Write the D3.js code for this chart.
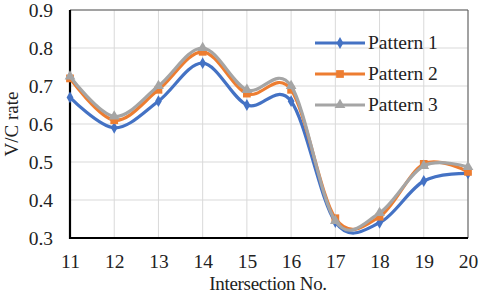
<!DOCTYPE html>
<html>
<head>
<meta charset="utf-8">
<script src="https://cdn.jsdelivr.net/npm/d3@7"></script>
<style>
  body { margin: 0; background: #fff; }
  svg text { font-family: "Liberation Serif", "DejaVu Serif", serif; fill: #222; }
</style>
</head>
<body>
<svg width="480" height="295"></svg>
<script>
var intersections = [11, 12, 13, 14, 15, 16, 17, 18, 19, 20];
var pattern1 = [0.67, 0.59, 0.66, 0.76, 0.65, 0.66, 0.342, 0.34, 0.45, 0.47];
var pattern2 = [0.72, 0.61, 0.69, 0.79, 0.68, 0.69, 0.352, 0.356, 0.495, 0.474];
var pattern3 = [0.725, 0.62, 0.70, 0.80, 0.69, 0.70, 0.345, 0.366, 0.49, 0.487];
var yTicks = [0.3, 0.4, 0.5, 0.6, 0.7, 0.8, 0.9];

var series = [
  {name: "Pattern 1", values: pattern1, color: "#4472C4", marker: "diamond"},
  {name: "Pattern 2", values: pattern2, color: "#ED7D31", marker: "square"},
  {name: "Pattern 3", values: pattern3, color: "#A5A5A5", marker: "triangle"}
];

var svg = d3.select("svg");
var plotLeft = 70, plotRight = 468, plotTop = 10, plotBottom = 238;

var x = d3.scaleLinear().domain([11, 20]).range([plotLeft, plotRight]);
var y = d3.scaleLinear().domain([0.3, 0.9]).range([plotBottom, plotTop]);

// grid
svg.append("g").selectAll("line")
  .data(yTicks)
  .enter().append("line")
    .attr("x1", plotLeft).attr("x2", plotRight)
    .attr("y1", function(d) {return y(d);})
    .attr("y2", function(d) {return y(d);})
    .attr("stroke", "#d9d9d9").attr("stroke-width", 1);
svg.append("g").selectAll("line")
  .data(intersections)
  .enter().append("line")
    .attr("y1", plotTop).attr("y2", plotBottom)
    .attr("x1", function(d) {return x(d);})
    .attr("x2", function(d) {return x(d);})
    .attr("stroke", "#d9d9d9").attr("stroke-width", 1);

// frame
svg.append("path")
  .attr("d", "M" + plotLeft + "," + plotTop + "H" + plotRight + "V" + plotBottom)
  .attr("fill", "none").attr("stroke", "#595959").attr("stroke-width", 1);

// axes
var yAxis = d3.axisLeft(y).tickValues(yTicks).tickFormat(d3.format(".1f")).tickSize(0).tickPadding(17);
var xAxis = d3.axisBottom(x).tickValues(intersections).tickFormat(d3.format("d")).tickSize(0).tickPadding(16);

var gy = svg.append("g").attr("transform", "translate(" + plotLeft + ",0)").call(yAxis);
var gx = svg.append("g").attr("transform", "translate(0," + plotBottom + ")").call(xAxis);
[gx, gy].forEach(function(g) {
  g.select(".domain").remove();
  g.attr("font-family", null).attr("font-size", null);
  g.selectAll("text").style("font-size", "19.5px").attr("fill", "#222");
});

svg.append("path")
  .attr("d", "M" + plotLeft + "," + plotTop + "V" + plotBottom + "H" + plotRight)
  .attr("fill", "none").attr("stroke", "#000").attr("stroke-width", 2.2);

// lines
var line = d3.line()
  .x(function(d, i) {return x(intersections[i]);})
  .y(function(d) {return y(d);})
  .curve(d3.curveCatmullRom.alpha(0));

var symbols = {
  diamond: d3.symbol().type(d3.symbolDiamond).size(40),
  square: d3.symbol().type(d3.symbolSquare).size(60),
  triangle: d3.symbol().type(d3.symbolTriangle).size(50)
};

series.forEach(function(s) {
  svg.append("path")
    .datum(s.values)
    .attr("d", line)
    .attr("fill", "none")
    .attr("stroke", s.color)
    .attr("stroke-width", 3.2);
  svg.append("g").selectAll("path")
    .data(s.values)
    .enter().append("path")
      .attr("d", symbols[s.marker])
      .attr("transform", function(d, i) {return "translate(" + x(intersections[i]) + "," + y(d) + ")";})
      .attr("fill", s.color);
});

// legend
var legend = svg.append("g");
series.forEach(function(s, i) {
  var ly = 43 + i * 31;
  legend.append("line")
    .attr("x1", 315).attr("x2", 365).attr("y1", ly).attr("y2", ly)
    .attr("stroke", s.color).attr("stroke-width", 3.2);
  legend.append("path")
    .attr("d", symbols[s.marker])
    .attr("transform", "translate(340," + ly + ")")
    .attr("fill", s.color);
  legend.append("text")
    .attr("x", 368).attr("y", ly + 6)
    .style("font-size", "19.5px")
    .text(s.name);
});

// axis titles
svg.append("text")
  .attr("x", 268).attr("y", 290)
  .attr("text-anchor", "middle")
  .style("font-size", "19px")
  .style("letter-spacing", "-0.3px")
  .text("Intersection No.");
svg.append("text")
  .attr("transform", "translate(18,124) rotate(-90)")
  .attr("text-anchor", "middle")
  .style("font-size", "19px")
  .text("V/C rate");
</script>
</body>
</html>
